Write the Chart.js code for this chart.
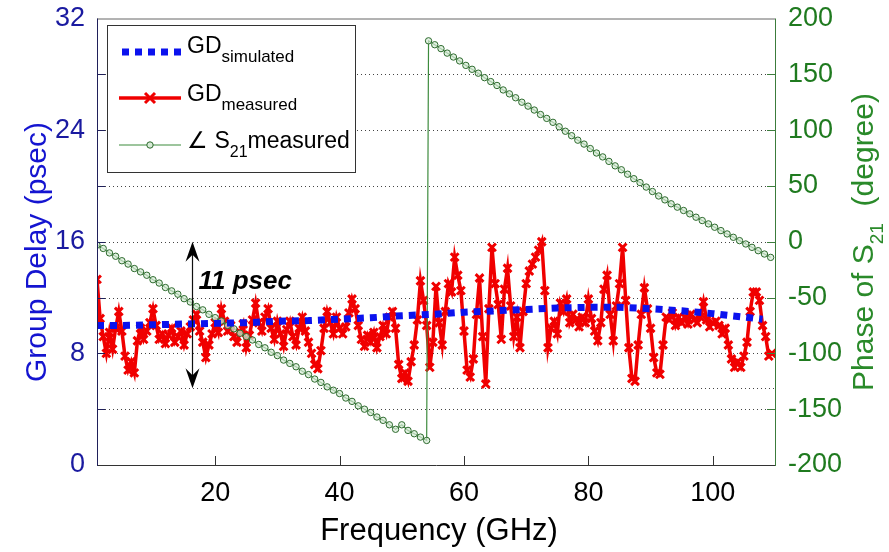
<!DOCTYPE html>
<html>
<head>
<meta charset="utf-8">
<script src="https://cdn.jsdelivr.net/npm/chart.js@4.4.1/dist/chart.umd.min.js"></script>
<style>
  html, body { margin: 0; padding: 0; background: #fff; }
  #wrap { width: 889px; height: 552px; }
</style>
</head>
<body>
<div id="wrap"><canvas id="gdChart" width="889" height="552"></canvas></div>
<script>
// values
const freqTicks = [20, 40, 60, 80, 100];
const delayTicks = [0, 8, 16, 24, 32];
const phaseTicks = [-200, -150, -100, -50, 0, 50, 100, 150, 200];
const phaseGrid = [-150, -100, -50, 0, 50, 100, 150];

// GD simulated (psec)
const simFreq = [1, 5, 10, 15, 20, 25, 30, 35, 40, 45, 50, 55, 60, 65, 70, 75, 80, 85, 90, 95, 100, 105, 108];
const gdSimulated = [10.0, 10.0, 10.05, 10.1, 10.15, 10.2, 10.3, 10.35, 10.45, 10.55, 10.7, 10.8, 10.95, 11.05, 11.15, 11.25, 11.3, 11.3, 11.2, 11.05, 10.85, 10.6, 10.45];

// GD measured (psec), every 0.5 GHz starting at 1 GHz
const measStart = 1;
const measStep = 0.5;
const gdMeasured = [
  13.3, 10.5, 9.2, 8.0, 9.5, 8.3, 9.8, 11.0, 9.6, 7.8,
  6.8, 7.4, 6.6, 8.9, 9.8, 9.0, 9.6, 10.2, 11.2, 10.0,
  9.0, 9.4, 8.7, 9.3, 9.8, 8.8, 9.2, 9.6, 8.6, 9.4,
  9.9, 10.4, 10.8, 9.6, 8.8, 7.7, 8.6, 9.4, 10.2, 9.5,
  11.2, 10.3, 9.6, 10.0, 9.2, 8.8, 9.5, 10.1, 8.4, 9.3,
  10.4, 11.6, 10.2, 9.6, 10.6, 11.2, 9.8, 9.0, 10.3, 9.4,
  8.5, 9.7, 10.3, 9.2, 8.6, 9.8, 10.6, 9.6, 8.8, 8.0,
  7.2, 6.9, 8.2, 9.8, 11.0, 10.2, 9.4, 10.6, 9.8, 9.4,
  9.9, 10.9, 11.9, 11.2, 10.0, 9.0, 8.5, 9.3, 8.8, 9.5,
  8.4, 9.2, 10.0, 9.4, 10.6, 11.0, 9.8, 7.2, 6.2, 6.6,
  6.0, 7.4, 8.6, 10.4, 13.2, 11.8, 10.0, 7.0, 8.8, 12.8,
  10.2, 8.6, 11.0, 13.0, 12.4, 14.9, 13.6, 12.5, 9.6, 6.8,
  6.3, 7.6, 10.8, 13.4, 9.2, 5.8, 11.2, 15.6, 13.0, 11.5,
  9.0, 12.6, 14.1, 11.4, 9.2, 10.6, 8.4, 11.0, 13.0, 13.9,
  14.4, 14.9, 15.4, 16.0, 12.5, 8.4, 9.8, 10.3, 9.4, 11.6,
  11.0, 11.9, 10.2, 10.8, 10.4, 9.9, 10.6, 10.2, 11.9, 10.5,
  9.6, 8.9, 10.2, 12.6, 13.6, 10.8, 8.9, 11.4, 13.0, 15.6,
  11.8, 8.4, 6.2, 6.0, 8.6, 10.8, 12.7, 11.2, 9.8, 7.7,
  6.6, 6.5, 8.6, 10.6, 10.4, 10.9, 10.0, 10.6, 10.2, 10.6,
  10.1, 10.8, 10.4, 10.2, 10.6, 11.7, 10.4, 9.9, 10.2, 10.3,
  10.0, 9.4, 9.8, 8.6, 7.6, 7.0, 7.4, 7.0, 7.8, 8.8,
  11.0, 12.4, 12.4, 11.8, 10.0, 9.2, 7.8, 8.0
];

// phase of S21 (degree), 1 GHz steps, wraps near 54 GHz
const phaseStep = 1;
const phaseLowStart = 1;
const phaseLow = [
  -3, -6, -10, -13, -17, -20, -24, -27, -30, -34,
  -37, -41, -44, -47, -51, -54, -58, -61, -65, -68,
  -71, -75, -78, -82, -85, -88, -92, -95, -99, -102,
  -106, -109, -112, -116, -119, -123, -126, -130, -133, -136,
  -140, -143, -147, -150, -153, -157, -160, -164, -168, -164,
  -169, -172, -175, -178
];
const phaseHighStart = 54.3;
const phaseHigh = [
  180, 176.5, 173, 169, 165.5, 162, 158, 154.5, 151, 147,
  143.5, 140, 136, 132.5, 129, 125, 121.5, 118, 114, 110.5,
  107, 103, 99, 95, 91, 87.5, 83.5, 79.5, 76, 72,
  68, 64.5, 60.5, 56.5, 53, 49, 45, 41, 37.5, 34,
  31, 28, 25, 22, 19, 16, 13, 10, 7, 4,
  1, -2, -5, -8, -11, -14
];

// "11 psec" span marker
const spanFreq = 16.3;
const spanTop = 16;
const spanBottom = 5.5;
const spanLabel = '11 psec';

const FONT = "'Liberation Sans', Arial, Helvetica, sans-serif";
const BLUE = '#0b12ee';
const RED = '#f00000';
const GREEN = '#3d8b3d';
const AXIS_BLUE = '#1a1aa0';
const AXIS_GREEN = '#1f7a1f';

const simPts = simFreq.map((f, i) => ({ x: f, y: gdSimulated[i] }));
const measPts = gdMeasured.map((v, i) => ({ x: measStart + i * measStep, y: v }));
const phasePts = phaseLow.map((v, i) => ({ x: phaseLowStart + i * phaseStep, y: v }))
  .concat(phaseHigh.map((v, i) => ({ x: phaseHighStart + i * phaseStep, y: v })));

function seg(ctx, x1, y1, x2, y2) {
  ctx.beginPath(); ctx.moveTo(x1, y1); ctx.lineTo(x2, y2); ctx.stroke();
}

function arrowHead(ctx, x, tipY, dir) {
  // dir = +1 points up, -1 points down
  ctx.beginPath();
  ctx.moveTo(x, tipY);
  ctx.lineTo(x - 7, tipY + dir * 20);
  ctx.lineTo(x, tipY + dir * 13);
  ctx.lineTo(x + 7, tipY + dir * 20);
  ctx.closePath();
  ctx.fill();
}

function subText(ctx, parts, x, y) {
  // parts: [text, size, dy]
  let cx = x;
  parts.forEach(([t, size, dy]) => {
    ctx.font = size + 'px ' + FONT;
    ctx.fillText(t, cx, y + dy);
    cx += ctx.measureText(t).width;
  });
  return cx - x;
}

const matlabFrame = {
  id: 'matlabFrame',
  beforeDatasetsDraw(chart) {
    const { ctx, chartArea: a, scales } = chart;
    ctx.save();
    ctx.strokeStyle = '#444';
    ctx.lineWidth = 1;
    ctx.setLineDash([1, 3]);
    phaseGrid.forEach(v => {
      const py = Math.round(scales.y2.getPixelForValue(v)) + 0.5;
      seg(ctx, a.left, py, a.right, py);
    });
    const ly = Math.round(scales.y.getPixelForValue(spanBottom)) + 0.5;
    seg(ctx, a.left, ly, a.right, ly);
    ctx.restore();
  },
  afterDatasetsDraw(chart) {
    const { ctx, chartArea: a, scales } = chart;
    const { x, y, y2 } = scales;
    ctx.save();

    // frame
    ctx.lineWidth = 1;
    ctx.strokeStyle = '#666';
    seg(ctx, a.left, a.top + 0.5, a.right, a.top + 0.5);
    ctx.strokeStyle = '#333';
    seg(ctx, a.left, a.bottom + 0.5, a.right + 1, a.bottom + 0.5);
    ctx.strokeStyle = '#20205a';
    seg(ctx, a.left + 0.5, a.top, a.left + 0.5, a.bottom + 1);
    ctx.strokeStyle = '#3c7c3c';
    seg(ctx, a.right + 0.5, a.top, a.right + 0.5, a.bottom + 1);

    // inward ticks
    ctx.strokeStyle = '#333';
    freqTicks.forEach(v => {
      const px = Math.round(x.getPixelForValue(v)) + 0.5;
      seg(ctx, px, a.bottom, px, a.bottom - 9);
    });
    phaseGrid.forEach(v => {
      const py = Math.round(y2.getPixelForValue(v)) + 0.5;
      ctx.strokeStyle = '#20205a';
      seg(ctx, a.left, py, a.left + 8, py);
      ctx.strokeStyle = '#3c7c3c';
      seg(ctx, a.right, py, a.right - 8, py);
    });

    // span arrow + label
    const ax = Math.round(x.getPixelForValue(spanFreq)) + 0.5;
    const at = y.getPixelForValue(spanTop);
    const ab = y.getPixelForValue(spanBottom);
    ctx.strokeStyle = '#111';
    ctx.fillStyle = '#000';
    ctx.lineWidth = 1.2;
    seg(ctx, ax, at + 6, ax, ab - 6);
    arrowHead(ctx, ax, at, 1);
    arrowHead(ctx, ax, ab, -1);
    ctx.font = 'italic bold 26px ' + FONT;
    ctx.textBaseline = 'alphabetic';
    ctx.fillText(spanLabel, ax + 6, y.getPixelForValue(12.6));

    // legend
    const bx = 107.5, by = 25.5, bw = 248, bh = 147;
    ctx.fillStyle = '#fff';
    ctx.fillRect(bx, by, bw, bh);
    ctx.strokeStyle = '#333';
    ctx.lineWidth = 1;
    ctx.strokeRect(bx, by, bw, bh);

    ctx.save();
    ctx.strokeStyle = BLUE; ctx.lineWidth = 7; ctx.setLineDash([7, 6]);
    seg(ctx, 122, 52, 181, 52);
    ctx.restore();

    ctx.strokeStyle = RED; ctx.lineWidth = 3.5;
    seg(ctx, 119, 98, 181, 98);
    ctx.lineWidth = 3;
    seg(ctx, 145, 93, 155, 103); seg(ctx, 145, 103, 155, 93);

    ctx.strokeStyle = GREEN; ctx.lineWidth = 1.2;
    seg(ctx, 119, 145, 181, 145);
    ctx.beginPath(); ctx.arc(150, 145, 3.2, 0, Math.PI * 2);
    ctx.fillStyle = 'rgba(215,235,215,1)'; ctx.fill();
    ctx.strokeStyle = '#2d6a2d'; ctx.lineWidth = 1; ctx.stroke();

    ctx.fillStyle = '#000';
    subText(ctx, [['GD', 23, 0], ['simulated', 17, 9]], 187, 53);
    subText(ctx, [['GD', 23, 0], ['measured', 17, 9]], 187, 101);
    subText(ctx, [['\u2220 S', 23, 0], ['21', 16, 9], ['measured', 23, 0]], 187, 148);

    // axis titles
    ctx.textBaseline = 'alphabetic';
    ctx.fillStyle = '#000';
    ctx.font = '31px ' + FONT;
    ctx.textAlign = 'center';
    ctx.fillText('Frequency (GHz)', (a.left + a.right) / 2 + 3, 540);

    ctx.save();
    ctx.translate(46, 252);
    ctx.rotate(-Math.PI / 2);
    ctx.fillStyle = '#1414d0';
    ctx.font = '30px ' + FONT;
    ctx.fillText('Group Delay (psec)', 0, 0);
    ctx.restore();

    ctx.save();
    ctx.textAlign = 'left';
    ctx.fillStyle = '#2a8a2a';
    const rParts = [['Phase of S', 30, 0], ['21', 19, 10], ['  (degree)', 30, 0]];
    let w = 0;
    rParts.forEach(([t, s]) => { ctx.font = s + 'px ' + FONT; w += ctx.measureText(t).width; });
    ctx.translate(873, 242);
    ctx.rotate(-Math.PI / 2);
    subText(ctx, rParts, -w / 2, 0);
    ctx.restore();

    ctx.restore();
  }
};

const chart = new Chart(document.getElementById('gdChart').getContext('2d'), {
  type: 'line',
  data: {
    datasets: [
      {
        label: 'GD simulated', data: simPts, yAxisID: 'y',
        borderColor: BLUE, borderWidth: 7, borderDash: [7, 6], borderCapStyle: 'butt',
        pointRadius: 0, fill: false, order: 0
      },
      {
        label: 'Phase S21 measured', data: phasePts, yAxisID: 'y2',
        borderColor: GREEN, borderWidth: 1.2, pointStyle: 'circle', pointRadius: 3.2,
        pointBorderColor: '#2d6a2d', pointBackgroundColor: 'rgba(215,235,215,0.7)',
        pointBorderWidth: 1, fill: false, order: 1
      },
      {
        label: 'GD measured', data: measPts, yAxisID: 'y',
        borderColor: RED, borderWidth: 3.5, pointStyle: 'crossRot', pointRadius: 5.5,
        pointBorderColor: RED, pointBorderWidth: 3, fill: false, order: 2
      }
    ]
  },
  options: {
    responsive: false,
    animation: false,
    layout: { padding: { top: 15, left: 0, right: 0, bottom: 0 } },
    elements: { line: { tension: 0 } },
    plugins: { legend: { display: false }, tooltip: { enabled: false } },
    scales: {
      x: {
        type: 'linear', position: 'bottom', min: 1, max: 110,
        afterBuildTicks: s => { s.ticks = freqTicks.map(v => ({ value: v })); },
        afterFit: s => { s.height = 87; },
        grid: { display: false }, border: { display: false },
        ticks: { color: '#000', font: { family: FONT, size: 27, lineHeight: 1 }, padding: 7, maxRotation: 0 }
      },
      y: {
        type: 'linear', position: 'left', min: 0, max: 32,
        afterBuildTicks: s => { s.ticks = delayTicks.map(v => ({ value: v })); },
        afterFit: s => { s.width = 97; },
        grid: { display: false }, border: { display: false },
        ticks: { color: AXIS_BLUE, font: { family: FONT, size: 27, lineHeight: 1 }, padding: 4 }
      },
      y2: {
        type: 'linear', position: 'right', min: -200, max: 200,
        afterBuildTicks: s => { s.ticks = phaseTicks.map(v => ({ value: v })); },
        afterFit: s => { s.width = 114; },
        grid: { display: false }, border: { display: false },
        ticks: { color: AXIS_GREEN, font: { family: FONT, size: 27, lineHeight: 1 }, padding: 5 }
      }
    }
  },
  plugins: [matlabFrame]
});
</script>
</body>
</html>
